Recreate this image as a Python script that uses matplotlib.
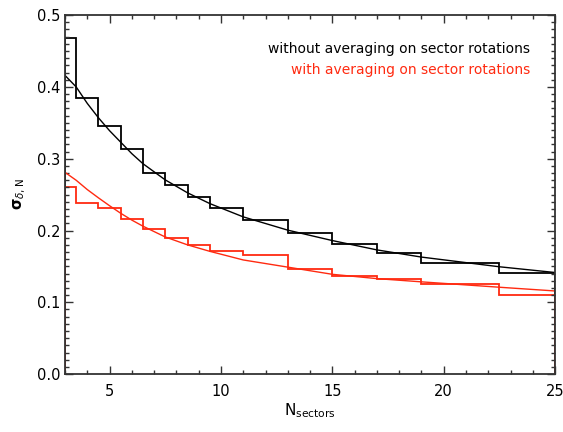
import numpy as np
import matplotlib.pyplot as plt
from matplotlib.ticker import MultipleLocator, FormatStrFormatter

# bin edges of the step curves (N sectors)
edges = [3, 3.5, 4.5, 5.5, 6.5, 7.5, 8.5, 9.5, 11, 13, 15, 17, 19, 22.5, 25]

# step levels
steps_without = [0.468, 0.384, 0.346, 0.313, 0.280, 0.264, 0.247, 0.232,
                 0.215, 0.196, 0.181, 0.169, 0.155, 0.141]
steps_with = [0.261, 0.239, 0.232, 0.216, 0.2015, 0.190, 0.180, 0.171,
              0.166, 0.146, 0.137, 0.132, 0.126, 0.110]

# smooth curves
curve_x = [3, 3.5, 4, 4.5, 5, 5.5, 6, 6.5, 7.5, 8.5, 9.5, 11, 13, 15, 17, 19, 22.5, 25]
curve_without = [0.416, 0.400, 0.377, 0.357, 0.339, 0.323, 0.307, 0.293, 0.2705,
                 0.2525, 0.2375, 0.219, 0.2005, 0.186, 0.173, 0.163, 0.1495, 0.1415]
curve_with = [0.281, 0.270, 0.257, 0.2455, 0.2345, 0.224, 0.2145, 0.206, 0.191,
              0.180, 0.171, 0.159, 0.149, 0.139, 0.133, 0.1285, 0.121, 0.1158]

red = '#ff2a10'

fig = plt.figure(figsize=(5.63, 4.32), dpi=100)
ax = fig.add_axes([0.1155, 0.134, 0.8705, 0.831])

ax.stairs(steps_without, edges, color='black', lw=1.3)
ax.stairs(steps_with, edges, color=red, lw=1.3)
ax.plot(curve_x, curve_without, color='black', lw=1.0)
ax.plot(curve_x, curve_with, color=red, lw=1.0)

ax.set_xlim(3, 25)
ax.set_ylim(0, 0.5)
ax.xaxis.set_major_locator(MultipleLocator(5))
ax.xaxis.set_minor_locator(MultipleLocator(1))
ax.yaxis.set_major_locator(MultipleLocator(0.1))
ax.yaxis.set_minor_locator(MultipleLocator(0.01))
ax.yaxis.set_major_formatter(FormatStrFormatter('%.1f'))
ax.tick_params(which='both', direction='in', top=True, right=True,
               labelsize=10.5, color='#333333', width=1.0)
ax.tick_params(which='major', length=6)
ax.tick_params(which='minor', length=3)
ax.tick_params(axis='x', pad=7)
for s in ax.spines.values():
    s.set_linewidth(1.3)
    s.set_color('#333333')

ax.set_xlabel(r'N$_{\rm sectors}$', fontsize=11, labelpad=2)
ax.set_ylabel(r'$\mathbf{\sigma}_{\delta,\mathrm{N}}$', fontsize=10.5)
ax.yaxis.set_label_coords(-0.076, 0.5)

ax.text(0.949, 0.907, 'without averaging on sector rotations', transform=ax.transAxes,
        ha='right', va='center', fontsize=10, color='black')
ax.text(0.949, 0.846, 'with averaging on sector rotations', transform=ax.transAxes,
        ha='right', va='center', fontsize=10, color=red)

plt.savefig('out.png', dpi=100)
